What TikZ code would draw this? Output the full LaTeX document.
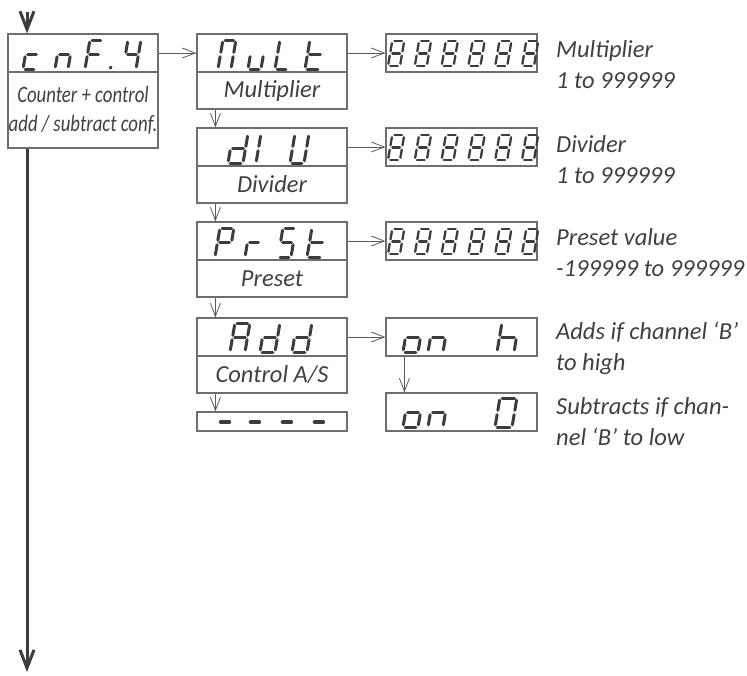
\documentclass[tikz,border=0pt]{standalone}
\usepackage{fontspec}
\usepackage{graphicx}
\setmainfont{Carlito}
\usetikzlibrary{arrows.meta}

\definecolor{boxgray}{HTML}{6E6E6E}
\definecolor{seggray}{HTML}{3C3C3C}
\definecolor{txtgray}{HTML}{404040}
\definecolor{arrgray}{HTML}{5A5A5A}

% seven segment pieces, width \dw and height \dh, gap \gp
\def\gp{2.2}
\newcommand{\segA}{\draw[seg] (\gp,\dh) -- (\dw-\gp,\dh);}
\newcommand{\segB}{\draw[seg] (\dw,\dh-\gp) -- (\dw,\dh/2+\gp);}
\newcommand{\segC}{\draw[seg] (\dw,\dh/2-\gp) -- (\dw,\gp);}
\newcommand{\segD}{\draw[seg] (\gp,0) -- (\dw-\gp,0);}
\newcommand{\segE}{\draw[seg] (0,\gp) -- (0,\dh/2-\gp);}
\newcommand{\segF}{\draw[seg] (0,\dh/2+\gp) -- (0,\dh-\gp);}
\newcommand{\segG}{\draw[seg] (\gp,\dh/2) -- (\dw-\gp,\dh/2);}
\newcommand{\segP}{\fill[seggray] (0,0) rectangle (2.8,2.8);}

% one slanted digit: x, baseline y, width, height, segments
\newcommand{\digit}[5]{%
  \begin{scope}[shift={(#1,#2)},x=1pt,y=1pt,xslant=0.17]
    \def\dw{#3}\def\dh{#4}
    \foreach \s in {#5} {\csname seg\s\endcsname}
  \end{scope}}

\tikzset{
  disp/.style={draw=boxgray, line width=1.2pt, minimum width=150pt,
    minimum height=38pt, inner sep=0pt},
  lbl/.style={disp, minimum height=37pt, text=txtgray, align=center,
    font=\fontsize{24.5}{30}\selectfont\itshape},
  note/.style={anchor=north west, inner sep=0pt, align=left, text=txtgray,
    font=\fontsize{24.5}{31}\selectfont\itshape},
  seg/.style={draw=seggray, line width=3pt, line cap=round},
  arr/.style={draw=arrgray, line width=0.8pt,
    -{Straight Barb[length=13pt,width=10pt]}},
  mainarr/.style={draw=seggray, line width=3pt,
    -{Straight Barb[length=18pt,width=14pt]}}
}

\begin{document}
\begin{tikzpicture}[x=1pt, y=-1pt]
  \useasboundingbox (0,0) rectangle (747,675);

  % Main menu box
  \node[disp] (cnf) at (83,53) {};
  \node[lbl, minimum height=76pt, font=\fontsize{23.5}{29}\selectfont\itshape]
    (cnfl) at (83,110)
    {\scalebox{0.8}[1]{Counter + control}\\\scalebox{0.8}[1]{add / subtract conf.}};

  % Parameter boxes
  \node[disp] (mult) at (272,53) {};
  \node[lbl] (multl) at (272,90.5) {Multiplier};
  \node[disp] (div) at (272,147) {};
  \node[lbl] (divl) at (272,184.5) {Divider};
  \node[disp] (prst) at (272,241) {};
  \node[lbl] (prstl) at (272,278.5) {Preset};
  \node[disp] (add) at (272,337) {};
  \node[lbl] (addl) at (272,374.5) {Control A/S};
  \node[disp, minimum height=19pt] (dash) at (272,421.5) {};

  % Value boxes
  \node[disp, minimum width=151pt] (vmult) at (461.5,53) {};
  \node[disp, minimum width=151pt] (vdiv) at (461.5,147) {};
  \node[disp, minimum width=151pt] (vprst) at (461.5,241) {};
  \node[disp, minimum width=151pt] (onh) at (461.5,337) {};
  \node[disp, minimum width=151pt] (ono) at (461.5,412) {};

  % Notes
  \node[note] (nmult) at (556,40) {Multiplier\\1 to 999999};
  \node[note] (ndiv) at (556,135) {Divider\\1 to 999999};
  \node[note] (nprst) at (556,228) {Preset value\\-199999 to 999999};
  \node[note] (nonh) at (556,322) {Adds if channel ‘B’\\to high};
  \node[note] (nono) at (556,397) {Subtracts if chan-\\nel ‘B’ to low};

  % Display glyphs
  \digit{23}{69}{13}{29}{D,E,G}
  \digit{55}{69}{13}{29}{C,E,G}
  \digit{85}{69}{13}{29}{A,E,F,G}
  \digit{109}{69}{0}{29}{P}
  \digit{123}{69}{13}{29}{B,C,F,G}

  \digit{218}{69}{13}{29}{A,B,C,E,F}
  \digit{248}{69}{13}{29}{C,D,E}
  \digit{275}{69}{13}{29}{D,E,F}
  \digit{305}{69}{15}{29}{D,E,F,G}

  \digit{228}{163}{15}{29}{B,C,D,E,G}
  \digit{256}{163}{13}{29}{E,F}
  \digit{290}{163}{14}{29}{B,C,D,E,F}

  \digit{215}{257}{14}{29}{A,B,E,F,G}
  \digit{245}{257}{13}{29}{E,G}
  \digit{278}{257}{13}{29}{A,C,D,F,G}
  \digit{307}{257}{15}{29}{D,E,F,G}

  \digit{230}{352}{15}{29}{A,B,C,E,F,G}
  \digit{260}{352}{15}{29}{B,C,D,E,G}
  \digit{292}{352}{15}{29}{B,C,D,E,G}

  \begin{scope}[seg/.style={draw=seggray, line width=3.8pt, line cap=round}]
    \foreach \x in {216,246,278,310} {
      \digit{\x}{436.5}{13}{29}{G}
    }
  \end{scope}

  \digit{403}{352}{15}{29}{C,D,E,G}
  \digit{428}{352}{15}{29}{C,E,G}
  \digit{497}{352}{17}{29}{C,E,F,G}
  \digit{403}{427}{15}{29}{C,D,E,G}
  \digit{428}{427}{15}{29}{C,E,G}
  \digit{495}{427}{17}{29}{A,B,C,D,E,F}

  \begin{scope}[seg/.style={draw=seggray, line width=2.3pt, line cap=round}]
    \foreach \yy in {66,160,254} {
      \foreach \k in {0,...,5} {
        \digit{388+26.8*\k}{\yy}{12}{25}{A,B,C,D,E,F,G}
      }
    }
  \end{scope}

  % Connectors
  \coordinate (entry) at (27,12);
  \coordinate (exit) at (27,672);
  \draw[mainarr] (entry) -- (entry |- cnf.north);
  \draw[mainarr] (exit |- cnfl.south) -- (exit);

  \draw[arr] (cnf) -- (mult);
  \draw[arr] (mult) -- (vmult);
  \draw[arr] (div) -- (vdiv);
  \draw[arr] (prst) -- (vprst);
  \draw[arr] (add) -- (onh);

  \draw[arr] ([xshift=19pt]multl.south west) -- ([xshift=19pt]div.north west);
  \draw[arr] ([xshift=19pt]divl.south west) -- ([xshift=19pt]prst.north west);
  \draw[arr] ([xshift=19pt]prstl.south west) -- ([xshift=19pt]add.north west);
  \draw[arr] ([xshift=19pt]addl.south west) -- ([xshift=19pt]dash.north west);
  \draw[arr] ([xshift=19pt]onh.south west) -- ([xshift=19pt]ono.north west);
\end{tikzpicture}
\end{document}
